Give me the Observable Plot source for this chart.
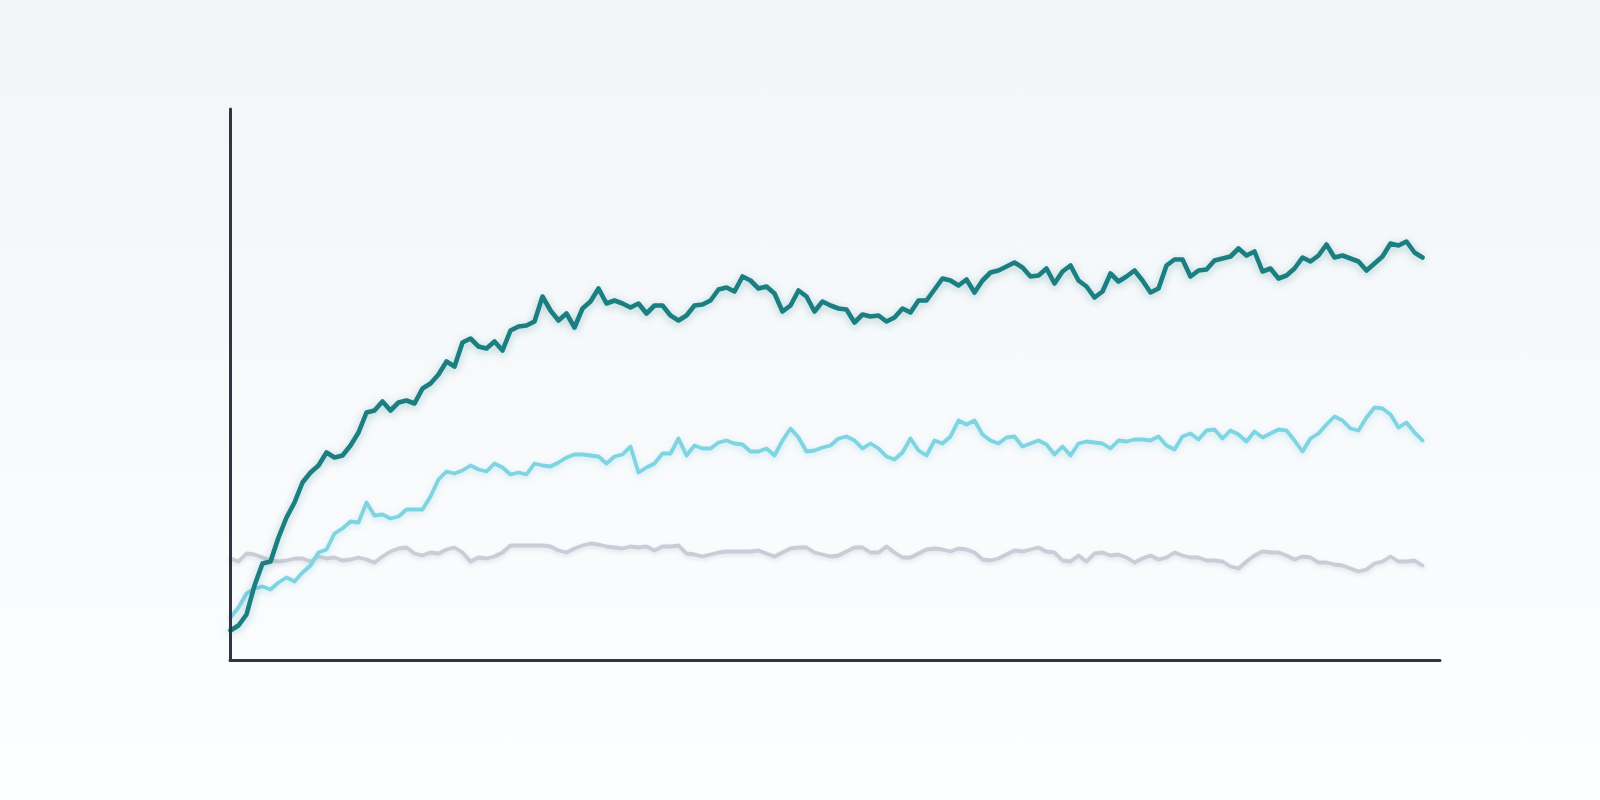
<!DOCTYPE html>
<html>
<head>
<meta charset="utf-8">
<script src="https://cdn.jsdelivr.net/npm/d3@7"></script>
<script src="https://cdn.jsdelivr.net/npm/@observablehq/plot@0.6"></script>
<style>
  html, body { margin: 0; padding: 0; }
  body {
    width: 1600px; height: 800px; overflow: hidden;
    background: linear-gradient(to bottom, #f2f6f9 0%, #f8fafc 55%, #fdfeff 100%);
    font-family: "Noto Sans", sans-serif;
  }
  #chart svg { display: block; background: transparent; }
</style>
</head>
<body>
<div id="chart"></div>
<script>
// Series values (one per evenly spaced step)
const seriesDark = [
  30,35,46,75,97,99,123,143,158,178,
  188,195,208,203,205,215,228,248,250,259,
  250,258,260,257,272,277,286,299,294,318,
  322,314,312,319,310,330,334,335,339,364,
  350,340,347,333,352,359,372,357,360,357,
  353,357,347,355,355,345,340,345,355,356,
  360,371,373,369,384,380,372,374,367,349,
  355,370,364,349,359,355,352,351,338,346,
  344,345,339,343,352,348,360,360,371,382,
  380,375,381,368,380,388,390,394,398,393,
  384,385,392,377,389,395,380,374,363,369,
  387,379,384,390,380,368,372,395,401,401,
  384,390,391,400,402,404,412,405,409,389,
  392,382,385,392,403,399,405,416,403,405,
  402,399,390,397,404,417,415,419,408,403
];
const seriesCyan = [
  43,53,67,72,74,71,78,83,79,88,
  95,108,111,127,132,139,138,158,145,146,
  142,144,151,151,151,164,181,189,187,190,
  195,191,189,197,193,186,188,186,197,195,
  194,198,203,206,206,205,204,197,204,206,
  214,188,193,197,207,207,222,205,215,212,
  212,218,220,217,216,209,209,212,205,220,
  232,223,209,210,213,215,222,224,220,212,
  217,212,204,201,208,222,210,205,220,217,
  224,240,236,240,226,220,217,223,224,214,
  217,220,216,206,214,205,217,219,218,217,
  212,220,219,221,221,220,224,215,211,224,
  227,221,230,231,222,230,226,219,229,223,
  227,231,230,220,209,222,227,236,244,240,
  232,230,243,253,252,246,233,238,228,220
];
const seriesGray = [
  102,99,107,106,103,100,99,100,102,102,
  99,104,102,103,100,101,103,101,98,104,
  109,112,113,107,105,108,107,111,113,108,
  99,103,102,104,108,115,115,115,115,115,
  114,110,108,112,115,117,116,114,113,112,
  114,113,114,110,114,114,115,107,106,104,
  106,108,109,109,109,109,110,107,104,108,
  112,113,113,108,106,104,105,109,113,113,
  108,108,114,108,103,103,107,111,112,111,
  109,112,111,108,101,100,102,106,110,109,
  111,113,109,108,100,99,105,99,107,108,
  105,106,103,98,102,105,101,103,108,105,
  103,103,100,100,99,94,92,99,105,109,
  108,108,105,101,104,103,98,98,96,95,
  92,89,91,97,99,104,99,99,100,95
];
const xMax = 151.25;
const yMax = 551;

const toRows = (arr) => arr.map((v, i) => ({x: i, y: v}));

const chart = Plot.plot({
  width: 1600,
  height: 800,
  marginLeft: 230,
  marginRight: 160,
  marginTop: 109,
  marginBottom: 140,
  style: {background: "transparent", overflow: "visible"},
  x: {domain: [0, xMax], axis: null},
  y: {domain: [0, yMax], axis: null},
  marks: [
    Plot.line(toRows(seriesGray), {x: "x", y: "y", stroke: "#c9cdd5", strokeWidth: 3.8, strokeLinejoin: "round", strokeLinecap: "round"}),
    Plot.line(toRows(seriesCyan), {x: "x", y: "y", stroke: "#7ed4e1", strokeWidth: 3.8, strokeLinejoin: "round", strokeLinecap: "round"}),
    Plot.line(toRows(seriesDark), {x: "x", y: "y", stroke: "#1b7e80", strokeWidth: 4.6, strokeLinejoin: "round", strokeLinecap: "round"}),
    Plot.ruleX([0], {y1: 0, y2: yMax, stroke: "#2f3542", strokeWidth: 3, strokeLinecap: "round"}),
    Plot.ruleY([0], {x1: 0, x2: xMax, stroke: "#2f3542", strokeWidth: 3, strokeLinecap: "round"})
  ]
});
document.getElementById("chart").appendChild(chart);

// subtle glow under the lines
const lines = chart.querySelectorAll('g[aria-label="line"] path');
const glows = [
  "drop-shadow(0px 2px 2px rgba(150,160,175,0.25))",
  "drop-shadow(0px 2px 3px rgba(90,190,205,0.3))",
  "drop-shadow(0px 2px 4px rgba(27,126,128,0.35))"
];
lines.forEach((p, i) => { p.style.filter = glows[Math.min(i, 2)]; });
</script>
</body>
</html>
